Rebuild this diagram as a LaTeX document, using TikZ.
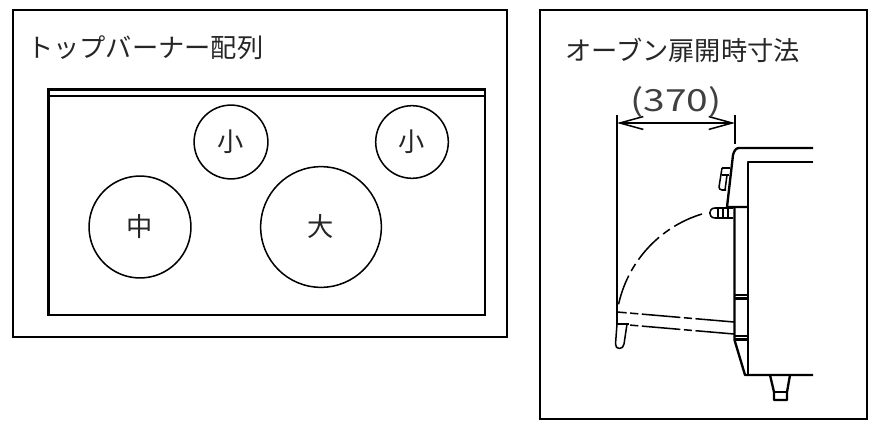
\documentclass[tikz,border=0pt]{standalone}
\usepackage{fontspec}
\setmainfont{Noto Sans CJK JP}
\newfontfamily\dimfont[FakeStretch=1.28]{Noto Sans CJK JP}
\usetikzlibrary{arrows.meta}
\tikzset{
  frame/.style={draw,line width=1.4pt},
  plate/.style={line width=2pt},
  burner/.style={draw,circle,line width=1.3pt,inner sep=0pt,text=black!85,font=\fontsize{22.4}{24}\selectfont},
  title/.style={anchor=west,inner sep=0pt,text=black!85,font=\fontsize{22.4}{24}\selectfont},
  body/.style={line width=2pt,line join=round},
  thin part/.style={line width=1.3pt,line join=round},
  door/.style={line width=1.3pt,dash pattern=on 33pt off 3pt on 7pt off 3pt},
  swing/.style={line width=1.3pt,dash pattern=on 26pt off 4.5pt on 7pt off 4.5pt},
}
\begin{document}
\begin{tikzpicture}[x=0.03cm,y=-0.03cm]
    \useasboundingbox (0,0) rectangle (876,428);
    % left panel
    \draw[frame] (13,10) rectangle (507,337);
    \node[title] (toptitle) at (27,48) {トップバーナー配列};
    \draw[plate] (48.5,89.5) rectangle (485,315);
    \draw[plate] (48.5,96) -- (485,96);
    \node[burner,minimum size=63pt] (smallleft) at (231,142) {小};
    \node[burner,minimum size=62pt] (smallright) at (412,142) {小};
    \node[burner,minimum size=87pt] (medium) at (140,227) {中};
    \node[burner,minimum size=103pt] (large) at (321,227) {大};
    % right panel
    \draw[frame] (540,10) rectangle (867,419);
    \node[title] (doortitle) at (565,50) {オーブン扉開時寸法};
    \coordinate (extleft) at (617,115);
    \coordinate (extright) at (735,115);
    \coordinate (dimleft) at (617,123);
    \coordinate (dimright) at (735,123);
    \draw[thin part] (extleft) -- (617,324);
    \draw[thin part] (extright) -- (735,144);
    \draw[thin part,{Straight Barb[length=20pt,width=11pt]}-{Straight Barb[length=20pt,width=11pt]}] (dimleft) -- (dimright);
    \node[inner sep=0pt,text=black!75,font=\dimfont\fontsize{26}{28}\selectfont] (dimtext) at (676,102) {(370)};
    % cabinet
    \draw[body] (813,148) -- (739,148) to[out=180,in=75] (733,155) -- (727,207) -- (748,207);
    \draw[body] (813,162) -- (748,162) -- (748,375);
    \draw[body] (734.5,207) -- (734.5,340) -- (745,375) -- (813,375);
    \draw[body] (734.5,295) -- (748,295);
    \draw[body] (734.5,298.5) -- (748,298.5);
    \draw[body] (734.5,336) -- (748,336);
    \draw[body] (734.5,339.5) -- (748,339.5);
    % foot
    \draw[body] (770,375) -- (774,392) -- (774,400) -- (787,400) -- (787,392) -- (790,375);
    \draw[thin part] (774,392) -- (787,392);
    % knob
    \draw[thin part] (722,168) -- (730,168);
    \draw[thin part] (722,168) -- (719,187) to[out=-100,in=180] (722,190) -- (726,190);
    \draw[thin part] (721.5,175) -- (729,175);
    \draw[thin part] (727,175) -- (725,190);
    % handle
    \draw[thin part] (733,208) -- (715,208) .. controls (708,208) and (708,218) .. (715,218) -- (733,218);
    \foreach \ribx in {718,723,728}
        \draw[thin part] (\ribx,208) -- (\ribx,218);
    % door
    \draw[thin part] (617,324) -- (629,324);
    \draw[thin part] (617,324) -- (615.5,344) .. controls (615,350) and (623.5,350) .. (624,344) -- (627,324);
    \draw[door] (734,322) -- (617,312);
    \draw[door] (734,334) -- (629,325);
    \draw[swing] (702,214) .. controls (659,227) and (626.6,263) .. (618,307);
\end{tikzpicture}
\end{document}
